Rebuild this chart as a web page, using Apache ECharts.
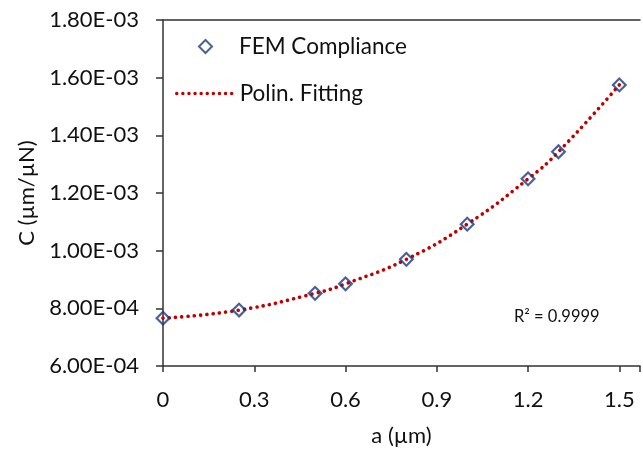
<!DOCTYPE html>
<html>
<head>
<meta charset="utf-8">
<script src="https://cdn.jsdelivr.net/npm/echarts@6/dist/echarts.min.js"></script>
<style>
    html, body { margin: 0; padding: 0; background: #fff; }
    #chart { width: 643px; height: 452px; }
</style>
</head>
<body>
<div id="chart"></div>
<script>
// a (um) and compliance C (um/uN)
var aValues = [0, 0.25, 0.5, 0.6, 0.8, 1.0, 1.2, 1.3, 1.5];
var cValues = [0.000766, 0.000794, 0.000852, 0.000885, 0.000970, 0.001092, 0.001249, 0.001343, 0.001575];
var xTicks = [0, 0.3, 0.6, 0.9, 1.2, 1.5];
var yTicks = ["6.00E-04", "8.00E-04", "1.00E-03", "1.20E-03", "1.40E-03", "1.60E-03", "1.80E-03"];
var seriesNames = ["FEM Compliance", "Polin. Fitting"];
var r2Text = "R\u00b2 = 0.9999";

var font = "Lato, 'Open Sans', sans-serif";
var ink = "#111";
var navy = "#1d3a7e";
var red = "#c00000";
var diamond = "path://M5,0 L10,5 L5,10 L0,5 Z";

function pairs() {
    var out = [];
    for (var i = 0; i < aValues.length; i++) {
        out.push([aValues[i], cValues[i]]);
    }
    return out;
}

function xLabel(v) {
    var r = Math.round(v * 10) / 10;
    if (Math.abs(r - v) > 1e-6 || xTicks.indexOf(r) < 0) {
        return "";
    }
    return String(r);
}

function yLabel(v) {
    var idx = Math.round((v - 0.0006) / 0.0002);
    return yTicks[idx] || "";
}

function init() {
    var chart = echarts.init(document.getElementById("chart"));
    var data = pairs();
    chart.setOption({
        animation: false,
        grid: { left: 163, top: 20, right: 0, bottom: 85 },
        legend: [{
            orient: "vertical",
            left: 193,
            top: 30,
            itemWidth: 13,
            itemHeight: 13,
            symbolRotate: 0,
            textStyle: { fontFamily: font, fontSize: 22.5, color: ink, padding: [0, 0, 0, 22] },
            data: [{
                name: seriesNames[0],
                icon: diamond,
                itemStyle: { color: "rgba(255,255,255,0)", borderColor: navy, borderWidth: 2 }
            }]
        }, {
            orient: "vertical",
            left: 170,
            top: 77,
            itemWidth: 55,
            itemHeight: 14,
            lineStyle: { color: red, width: 3.4, type: [0.1, 6], cap: "round" },
            textStyle: { fontFamily: font, fontSize: 22.5, color: ink, padding: [0, 0, 0, 3] },
            data: [{ name: seriesNames[1], itemStyle: { opacity: 0 } }]
        }],
        xAxis: [{
            type: "value",
            min: 0,
            max: 1.568,
            interval: 0.3,
            name: "a (\u00b5m)",
            nameLocation: "middle",
            nameGap: 59,
            nameTextStyle: { fontFamily: font, fontSize: 22, color: ink },
            axisLine: { show: true, lineStyle: { color: "#333", width: 1.5 } },
            axisTick: { show: true, length: 6, lineStyle: { color: "#333", width: 1.5 } },
            axisLabel: { fontFamily: font, fontSize: 22, color: ink, margin: 23, formatter: xLabel },
            splitLine: { show: false }
        }, {
            type: "value",
            position: "top",
            min: 0,
            max: 1.568,
            axisLine: { show: true, lineStyle: { color: "#333", width: 1.5 } },
            axisTick: { show: false },
            axisLabel: { show: false },
            splitLine: { show: false }
        }],
        yAxis: {
            type: "value",
            min: 0.0006,
            max: 0.0018,
            interval: 0.0002,
            name: "C (\u00b5m/\u00b5N)",
            nameLocation: "middle",
            nameGap: 121,
            nameTextStyle: { fontFamily: font, fontSize: 22, color: ink },
            axisLine: { show: true, lineStyle: { color: "#333", width: 1.5 } },
            axisTick: { show: true, length: 7, lineStyle: { color: "#333", width: 1.5 } },
            axisLabel: { fontFamily: font, fontSize: 22, color: ink, margin: 24, formatter: yLabel },
            splitLine: { show: false }
        },
        graphic: [{
            type: "text",
            left: 514,
            top: 308,
            style: { text: r2Text, fontFamily: font, fontSize: 16.5, fill: ink }
        }],
        series: [{
            name: seriesNames[1],
            type: "line",
            smooth: true,
            symbol: "none",
            z: 2,
            lineStyle: { color: red, width: 3.6, type: [0.1, 6.2], cap: "round" },
            itemStyle: { color: red },
            data: data
        }, {
            name: seriesNames[0],
            type: "scatter",
            symbol: "rect",
            symbolSize: 9,
            symbolRotate: 45,
            z: 3,
            itemStyle: { color: "rgba(255,255,255,0)", borderColor: navy, borderWidth: 2.2 },
            data: data
        }]
    });
}

init();
</script>
</body>
</html>
